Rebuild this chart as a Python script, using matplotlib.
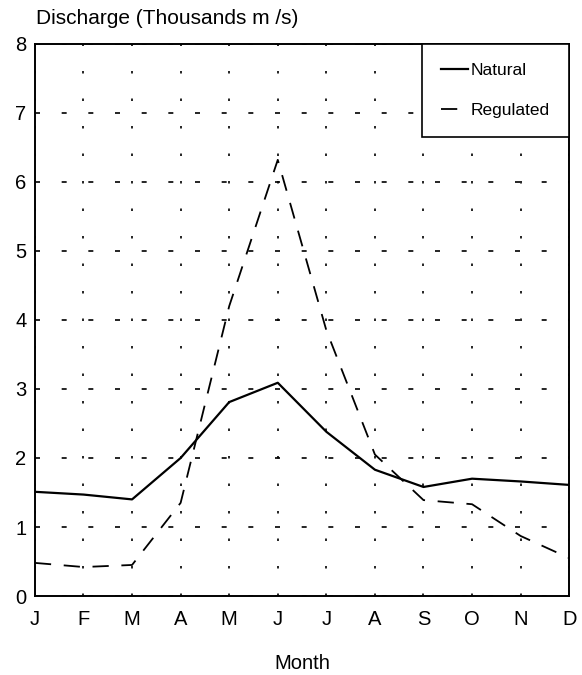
import numpy as np
import matplotlib.pyplot as plt

plt.rcParams['font.family'] = ['Liberation Sans', 'DejaVu Sans']

months = ['J', 'F', 'M', 'A', 'M', 'J', 'J', 'A', 'S', 'O', 'N', 'D']
natural = [1.51, 1.47, 1.40, 2.00, 2.81, 3.09, 2.38, 1.83, 1.58, 1.70, 1.66, 1.61]
regulated = [0.48, 0.42, 0.45, 1.35, 4.20, 6.32, 3.85, 2.05, 1.39, 1.33, 0.87, 0.55]

fig = plt.figure(figsize=(5.82, 6.75), dpi=100)
ax = fig.add_axes([0.060, 0.117, 0.918, 0.818])

x = np.arange(len(months))
ax.plot(x, natural, color='black', lw=1.6, label='Natural')
ax.plot(x, regulated, color='black', lw=1.3, dashes=(9, 7), label='Regulated')

ax.set_xlim(0, 11)
ax.set_ylim(0, 8)
ax.set_xticks(x)
ax.set_xticklabels(months)
ax.set_yticks(range(9))
ax.tick_params(length=0, labelsize=14.5, pad=10)
ax.tick_params(axis='y', pad=6)

ax.xaxis.grid(True, color='black', lw=1.2, linestyle=(0, (1.5, 15)))
ax.yaxis.grid(True, color='black', lw=1.2, linestyle=(0, (3, 13)))
for s in ax.spines.values():
    s.set_linewidth(1.4)

ax.set_xlabel('Month', fontsize=14.5, labelpad=18)

leg = ax.legend(loc='upper right', borderaxespad=0, fancybox=False,
                handlelength=1.5, handletextpad=0.2, fontsize=12.5,
                labelspacing=1.4, borderpad=1.1)
leg.get_frame().set_edgecolor('black')
leg.get_frame().set_linewidth(1.2)
leg.get_frame().set_alpha(1)

fig.text(0.062, 0.972, 'Discharge (Thousands m /s)', fontsize=15, ha='left', va='center')

fig.savefig('out.png', dpi=100)
